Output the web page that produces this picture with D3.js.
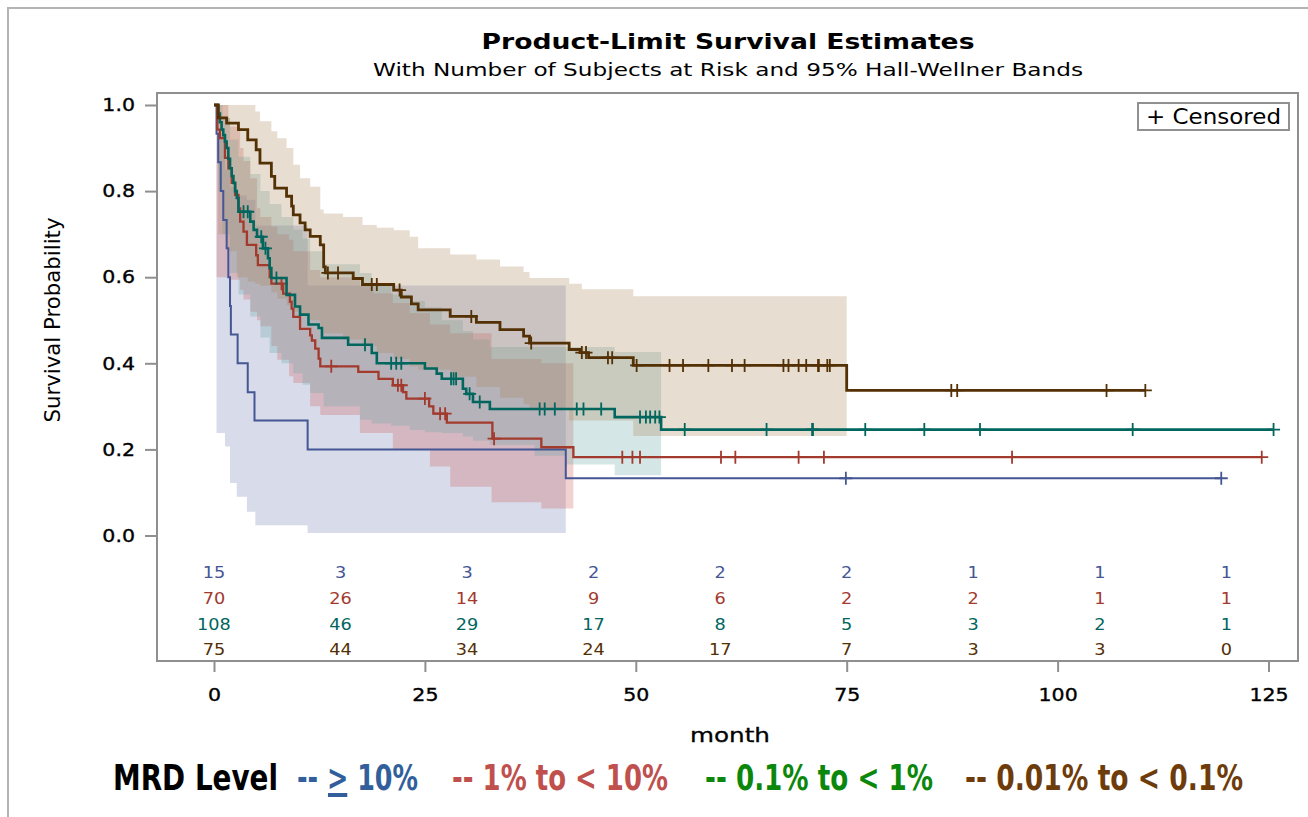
<!DOCTYPE html>
<html>
<head>
<meta charset="utf-8">
<script src="https://cdn.jsdelivr.net/npm/d3@7"></script>
<style>
  body { margin: 0; background: #fff; }
  svg { display: block; }
  text { font-family: "DejaVu Sans", "Liberation Sans", sans-serif; }
</style>
</head>
<body>
<script>
// ---- data ----
var groupNames = ["> 10%", "1% to < 10%", "0.1% to < 1%", "0.01% to < 0.1%"];

// step points of each Kaplan-Meier curve (month, survival)
var blueTimes = [0.3, 0.5, 0.8, 1.1, 1.5, 1.7, 1.9, 2.0, 2.8, 4.0, 4.8, 11.1, 41.7];
var blueSurv = [0.933, 0.867, 0.8, 0.733, 0.667, 0.6, 0.533, 0.467, 0.4, 0.333, 0.267, 0.2, 0.133];
var blueCensor = [74.9, 119.4];

var redTimes = [0.4, 0.7, 1.3, 1.7, 2.1, 2.5, 2.9, 3.1, 3.5, 3.9, 5.0, 5.2, 6.6, 6.8, 8.2, 9.0, 9.2, 9.4, 10.2, 11.4,
                11.6, 12.0, 12.4, 12.6, 17.1, 19.5, 21.2, 22.4, 22.8, 25.5, 26.0, 27.6, 33.0, 38.8, 42.6];
var redSurv = [0.943, 0.923, 0.877, 0.853, 0.819, 0.791, 0.76, 0.729, 0.706, 0.675, 0.651, 0.628, 0.6, 0.585, 0.562, 0.543, 0.527, 0.508, 0.48, 0.465,
               0.453, 0.434, 0.411, 0.393, 0.38, 0.364, 0.349, 0.333, 0.318, 0.3, 0.283, 0.262, 0.225, 0.205, 0.182];
var redCensor = [8.0, 13.9, 21.8, 22.2, 25.0, 26.8, 27.4, 33.2, 48.4, 49.6, 50.5, 60.1, 61.8, 69.3, 72.3, 94.6, 124.2];

var tealTimes = [0.5, 0.7, 0.9, 1.1, 1.3, 1.5, 1.7, 1.9, 2.1, 2.3, 2.5, 2.7, 2.9, 4.3, 4.7, 5.1, 5.8, 6.4, 6.6, 6.8,
                 8.6, 9.6, 10.2, 11.2, 12.4, 12.8, 15.9, 18.7, 19.3, 25.0, 26.4, 27.0, 29.5, 29.9, 30.7, 32.7, 47.5, 53.0];
var tealSurv = [0.98, 0.96, 0.943, 0.93, 0.915, 0.9, 0.875, 0.853, 0.835, 0.819, 0.8, 0.784, 0.752, 0.729, 0.71, 0.694, 0.667, 0.644, 0.621, 0.598,
                0.559, 0.532, 0.513, 0.49, 0.482, 0.459, 0.443, 0.424, 0.4, 0.388, 0.376, 0.364, 0.341, 0.329, 0.31, 0.294, 0.275, 0.246];
var tealCensor = [3.5, 4.0, 5.6, 6.1, 7.4, 17.9, 21.0, 21.6, 22.2, 28.1, 28.4, 28.7, 30.3, 31.5, 38.6, 39.2, 40.4, 43.0, 43.8, 45.9,
                  50.5, 51.2, 51.7, 52.3, 52.8, 55.8, 65.5, 70.9, 71.0, 77.2, 84.2, 90.8, 108.9, 125.6];

var brownTimes = [0.5, 1.5, 2.9, 4.0, 5.0, 5.45, 6.8, 7.2, 8.6, 9.2, 9.4, 10.2, 10.8, 11.4, 12.6, 13.0, 13.2, 16.5, 17.6, 21.3,
                  22.2, 23.4, 24.2, 28.0, 31.1, 33.9, 36.7, 37.4, 42.1, 43.4, 44.4, 49.7, 75.0];
var brownSurv = [0.97, 0.958, 0.943, 0.919, 0.896, 0.865, 0.834, 0.807, 0.788, 0.765, 0.745, 0.726, 0.71, 0.695, 0.675, 0.624, 0.61, 0.597, 0.583, 0.57,
                 0.554, 0.538, 0.524, 0.509, 0.495, 0.478, 0.463, 0.447, 0.432, 0.425, 0.413, 0.395, 0.337];
var brownCensor = [13.5, 14.7, 18.7, 19.3, 22.0, 30.5, 37.6, 43.6, 44.1, 46.7, 47.2, 50.1, 54.0, 55.6, 58.6, 61.4, 62.9, 67.5, 68.1, 69.3,
                   70.2, 71.6, 71.7, 72.7, 73.0, 87.4, 88.1, 105.8, 110.4];

// 95% Hall-Wellner bands (step start month, lower, upper) and last month
var blueBandTimes = [0.3, 1.3, 1.9, 2.7, 3.9, 4.9, 11.1];
var blueBandLower = [0.238, 0.207, 0.122, 0.09, 0.055, 0.024, 0.006];
var blueBandUpper = [0.93, 0.85, 0.81, 0.79, 0.78, 0.72, 0.581];
var blueBandEnd = 41.7;

var redBandTimes = [0.3, 1.7, 1.9, 3.1, 3.5, 4.3, 5.1, 5.5, 6.8, 7.5, 8.9, 9.4, 11.4, 12.6, 17.3, 18.9, 21.2, 23.2, 25.6, 28.0, 32.9, 38.8];
var redBandLower = [0.6, 0.6, 0.594, 0.57, 0.548, 0.52, 0.5, 0.486, 0.44, 0.408, 0.37, 0.354, 0.3, 0.28, 0.238, 0.238, 0.199, 0.199, 0.16, 0.113, 0.077, 0.063];
var redBandUpper = [1.0, 0.97, 0.95, 0.9, 0.87, 0.83, 0.76, 0.74, 0.718, 0.7, 0.687, 0.66, 0.617, 0.6, 0.58, 0.563, 0.54, 0.517, 0.49, 0.47, 0.41, 0.4];
var redBandEnd = 42.6;

var tealBandTimes = [0.5, 1.0, 1.9, 2.9, 4.3, 5.5, 6.6, 8.0, 9.4, 10.5, 11.4, 13.0, 17.3, 18.7, 21.0, 23.2, 25.0, 27.0, 29.5, 30.7, 32.7, 38.0, 41.7, 47.5];
var tealBandLower = [0.8, 0.7, 0.61, 0.56, 0.509, 0.46, 0.424, 0.4, 0.377, 0.35, 0.331, 0.3, 0.269, 0.26, 0.255, 0.245, 0.24, 0.238, 0.23, 0.22, 0.21, 0.185, 0.165, 0.14];
var tealBandUpper = [1.0, 0.97, 0.92, 0.88, 0.84, 0.8, 0.77, 0.74, 0.71, 0.69, 0.66, 0.63, 0.61, 0.585, 0.56, 0.545, 0.53, 0.5, 0.475, 0.455, 0.438, 0.438, 0.438, 0.426];
var tealBandEnd = 53.0;

var brownBandTimes = [0.5, 1.5, 2.7, 4.0, 4.9, 5.45, 6.8, 7.5, 8.6, 9.4, 10.2, 11.4, 12.6, 13.0, 15.3, 17.6, 19.3, 21.3, 23.2, 24.2, 28.0, 31.1, 33.9, 36.7, 37.4, 42.1, 43.6, 49.7];
var brownBandLower = [0.7, 0.66, 0.6, 0.59, 0.585, 0.58, 0.565, 0.55, 0.535, 0.52, 0.51, 0.5, 0.485, 0.47, 0.455, 0.44, 0.424, 0.41, 0.393, 0.385, 0.369, 0.345, 0.32, 0.305, 0.295, 0.267, 0.267, 0.231];
var brownBandUpper = [1.0, 1.0, 1.0, 1.0, 0.985, 0.962, 0.939, 0.923, 0.9, 0.861, 0.83, 0.81, 0.757, 0.748, 0.74, 0.721, 0.715, 0.709, 0.694, 0.667, 0.653, 0.641, 0.625, 0.612, 0.598, 0.585, 0.572, 0.556];
var brownBandEnd = 75.0;

// subjects at risk
var atRiskMonths = [0, 15, 30, 45, 60, 75, 90, 105, 120];
var blueAtRisk = [15, 3, 3, 2, 2, 2, 1, 1, 1];
var redAtRisk = [70, 26, 14, 9, 6, 2, 2, 1, 1];
var tealAtRisk = [108, 46, 29, 17, 8, 5, 3, 2, 1];
var brownAtRisk = [75, 44, 34, 24, 17, 7, 3, 3, 0];

var xTicks = [0, 25, 50, 75, 100, 125];
var yTicks = [0, 0.2, 0.4, 0.6, 0.8, 1.0];

// ---- styles ----
var lineColors = ["#445694", "#A23A2E", "#01665E", "#543005"];
var bandColors = ["#6F7EB3", "#D05B5B", "#66A5A0", "#A9865B"];
var legendColors = ["#325f9b", "#c0504d", "#0b870b", "#6e3c0a"];
var lineWidths = [2, 2.3, 2.6, 2.8];

var groups = [
  {times: blueTimes, surv: blueSurv, censor: blueCensor, bandT: blueBandTimes, bandLo: blueBandLower, bandHi: blueBandUpper, bandEnd: blueBandEnd, risk: blueAtRisk},
  {times: redTimes, surv: redSurv, censor: redCensor, bandT: redBandTimes, bandLo: redBandLower, bandHi: redBandUpper, bandEnd: redBandEnd, risk: redAtRisk},
  {times: tealTimes, surv: tealSurv, censor: tealCensor, bandT: tealBandTimes, bandLo: tealBandLower, bandHi: tealBandUpper, bandEnd: tealBandEnd, risk: tealAtRisk},
  {times: brownTimes, surv: brownSurv, censor: brownCensor, bandT: brownBandTimes, bandLo: brownBandLower, bandHi: brownBandUpper, bandEnd: brownBandEnd, risk: brownAtRisk}
];

var width = 1308, height = 817;
var frame = {left: 157, top: 93, right: 1298, bottom: 661};

var svg = d3.select("body").append("svg")
    .attr("width", width)
    .attr("height", height);

var x = d3.scaleLinear().domain([0, 125]).range([214, 1268.5]);
var y = d3.scaleLinear().domain([0, 1]).range([535.5, 105]);

// widen text a little, the picture is rendered stretched
function stretch(sel, k) {
  sel.each(function() {
    var w = this.getComputedTextLength();
    d3.select(this).attr("textLength", w * k).attr("lengthAdjust", "spacingAndGlyphs");
  });
}
function fitText(sel, len) {
  sel.attr("textLength", len).attr("lengthAdjust", "spacingAndGlyphs");
}

// outer border
svg.append("rect")
    .attr("x", 8).attr("y", 8)
    .attr("width", 1320).attr("height", 840)
    .attr("fill", "none")
    .attr("stroke", "#b4b4b4")
    .attr("stroke-width", 2);

// titles
var title = svg.append("text")
    .attr("x", 728).attr("y", 49)
    .attr("text-anchor", "middle")
    .style("font-size", "22px")
    .style("font-weight", "bold")
    .text("Product-Limit Survival Estimates");
fitText(title, 493);

var subtitle = svg.append("text")
    .attr("x", 728).attr("y", 76)
    .attr("text-anchor", "middle")
    .style("font-size", "18px")
    .text("With Number of Subjects at Risk and 95% Hall-Wellner Bands");
fitText(subtitle, 710);

// bands
var area = d3.area()
    .curve(d3.curveStepAfter)
    .x(function(d) { return x(d.t); })
    .y0(function(d) { return y(d.lo); })
    .y1(function(d) { return y(d.hi); });

var bandG = svg.append("g");
groups.forEach(function(g, i) {
  var pts = g.bandT.map(function(t, j) { return {t: t, lo: g.bandLo[j], hi: g.bandHi[j]}; });
  var last = pts[pts.length - 1];
  pts.push({t: g.bandEnd, lo: last.lo, hi: last.hi});
  bandG.append("path")
      .datum(pts)
      .attr("d", area)
      .attr("fill", bandColors[i])
      .attr("fill-opacity", 0.28);
});

// survival curves
var line = d3.line()
    .curve(d3.curveStepAfter)
    .x(function(d) { return x(d.t); })
    .y(function(d) { return y(d.s); });

function survAt(g, t) {
  var s = 1;
  g.times.forEach(function(tt, j) { if (tt <= t) s = g.surv[j]; });
  return s;
}

var curveG = svg.append("g");
groups.forEach(function(g, i) {
  var pts = [{t: 0, s: 1}].concat(g.times.map(function(t, j) { return {t: t, s: g.surv[j]}; }));
  var end = Math.max(d3.max(g.times), d3.max(g.censor));
  pts.push({t: end, s: g.surv[g.surv.length - 1]});
  curveG.append("path")
      .datum(pts)
      .attr("d", line)
      .attr("fill", "none")
      .attr("stroke", lineColors[i])
      .attr("stroke-width", lineWidths[i]);

  curveG.selectAll(".cens" + i)
      .data(g.censor)
      .enter().append("path")
      .attr("class", "cens" + i)
      .attr("transform", function(c) { return "translate(" + x(c) + "," + y(survAt(g, c)) + ")"; })
      .attr("d", "M-6.5,0H6.5M0,-6.5V6.5")
      .attr("fill", "none")
      .attr("stroke", lineColors[i])
      .attr("stroke-width", 1.8);
});

// at-risk table
var riskRows = [577.5, 603.5, 629.5, 655];
groups.forEach(function(g, i) {
  var t = svg.append("g").selectAll("text")
      .data(g.risk)
      .enter().append("text")
      .attr("x", function(d, j) { return x(atRiskMonths[j]); })
      .attr("y", riskRows[i])
      .attr("text-anchor", "middle")
      .attr("fill", lineColors[i])
      .style("font-size", "15px")
      .text(function(d) { return d; });
  stretch(t, 1.18);
});

// frame
svg.append("rect")
    .attr("x", frame.left).attr("y", frame.top)
    .attr("width", frame.right - frame.left)
    .attr("height", frame.bottom - frame.top)
    .attr("fill", "none")
    .attr("stroke", "#8f8f8f")
    .attr("stroke-width", 2);

// axes
var yAxis = svg.append("g")
    .attr("transform", "translate(" + frame.left + ",0)")
    .call(d3.axisLeft(y).tickValues(yTicks).tickSize(12).tickPadding(10).tickFormat(d3.format(".1f")));
var xAxis = svg.append("g")
    .attr("transform", "translate(0," + frame.bottom + ")")
    .call(d3.axisBottom(x).tickValues(xTicks).tickSize(11).tickPadding(16));

[yAxis, xAxis].forEach(function(ax) {
  ax.select(".domain").remove();
  ax.selectAll(".tick line").attr("stroke", "#8f8f8f").attr("stroke-width", 2);
  ax.selectAll(".tick text")
      .attr("fill", "#000")
      .attr("stroke", "#000")
      .attr("stroke-width", 0.35)
      .style("font-family", "'DejaVu Sans', sans-serif")
      .style("font-size", "18px");
  stretch(ax.selectAll(".tick text"), 1.14);
});

var xLabel = svg.append("text")
    .attr("x", 730).attr("y", 742)
    .attr("text-anchor", "middle")
    .attr("stroke", "#000")
    .attr("stroke-width", 0.3)
    .style("font-size", "20px")
    .text("month");
fitText(xLabel, 80);

var yLabel = svg.append("text")
    .attr("transform", "translate(60,320) rotate(-90)")
    .attr("text-anchor", "middle")
    .style("font-size", "21px")
    .text("Survival Probability");
fitText(yLabel, 205);

// censored legend
svg.append("rect")
    .attr("x", 1138).attr("y", 103)
    .attr("width", 151).attr("height", 27)
    .attr("fill", "#fff")
    .attr("stroke", "#909090")
    .attr("stroke-width", 2);
var censText = svg.append("text")
    .attr("x", 1146).attr("y", 123.5)
    .style("font-size", "21px")
    .text("+ Censored");
fitText(censText, 135);

// MRD legend
var legendFont = "'Liberation Sans Narrow', 'DejaVu Sans Condensed', 'Arial Narrow', sans-serif";
var legendX = [297, 452, 705, 965];
var legendLen = [121, 216, 228, 278];

var mrd = svg.append("text")
    .attr("x", 113).attr("y", 790)
    .style("font-family", legendFont)
    .style("font-weight", "bold")
    .style("font-size", "36px")
    .text("MRD Level");
fitText(mrd, 165);

groupNames.forEach(function(name, i) {
  var t = svg.append("text")
      .attr("x", legendX[i]).attr("y", 790)
      .attr("fill", legendColors[i])
      .style("font-family", legendFont)
      .style("font-weight", "bold")
      .style("font-size", "36px")
      .text("-- " + name);
  fitText(t, legendLen[i]);
  if (i === 0) {
    // ">" drawn with a bar under it, read as ">="
    var box = t.node().getExtentOfChar(3);
    svg.append("rect")
        .attr("x", box.x + 1).attr("y", 793)
        .attr("width", box.width - 2).attr("height", 4)
        .attr("fill", legendColors[i]);
  }
});
</script>
</body>
</html>
